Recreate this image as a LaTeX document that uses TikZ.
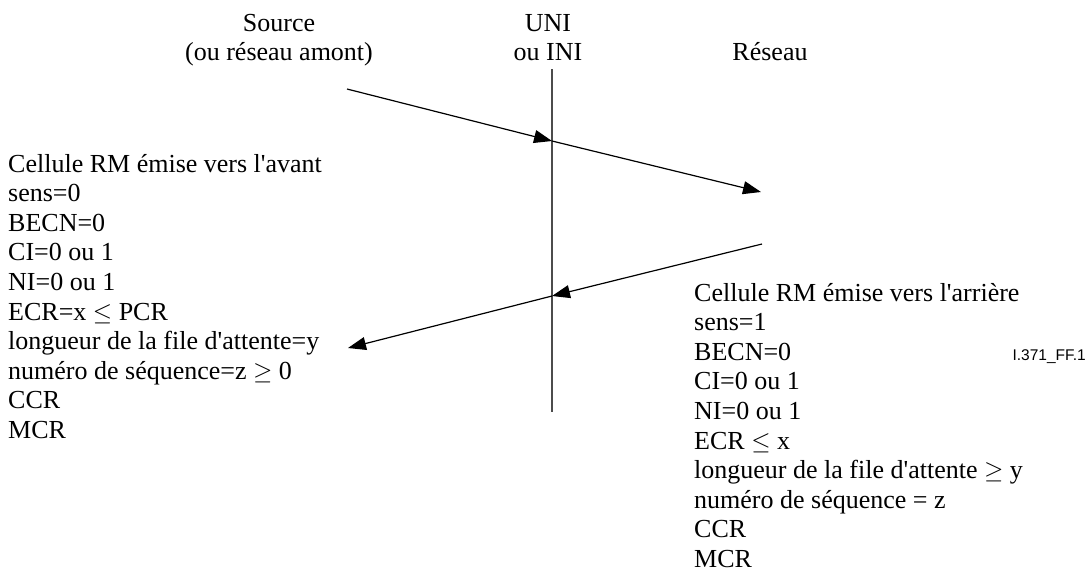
\documentclass[tikz,border=0pt]{standalone}
\usepackage{fontspec}
\newfontfamily\tnr{Liberation Serif}
\newfontfamily\arl{Liberation Sans}
\newcommand\apos{\char39\relax}
\usetikzlibrary{arrows.meta}
\begin{document}
\begin{tikzpicture}[x=1pt,y=-1pt,
  txt/.style={inner sep=0pt,font=\tnr\fontsize{26}{29.6}\selectfont},
  msg/.style={line width=1.2pt,draw=black,-{Triangle[length=18pt,width=13pt]}},
  iface/.style={line width=1.4pt,draw=black!70}]
\useasboundingbox (0,0) rectangle (1086,571);
% top labels
\node[txt,anchor=base] (src1) at (279,31) {Source};
\node[txt,anchor=base] (src2) at (279,60) {(ou réseau amont)};
\node[txt,anchor=base] (uni1) at (548,31) {UNI};
\node[txt,anchor=base] (uni2) at (548,60) {ou INI};
\node[txt,anchor=base] (res) at (770,60) {Réseau};
% interface line
\coordinate (vtop) at (552,69);
\coordinate (vbot) at (552,412);
\draw[iface] (vtop) -- (vbot);
% forward RM cell
\coordinate (f0) at (347,89);
\coordinate (f1) at (552,141);
\coordinate (f2) at (761,192);
\draw[msg] (f0) -- (f1);
\draw[msg] (f1) -- (f2);
% backward RM cell
\coordinate (b0) at (762,244);
\coordinate (b1) at (552,296);
\coordinate (b2) at (348,348);
\draw[msg] (b0) -- (b1);
\draw[msg] (b1) -- (b2);
% left text
\foreach \t [count=\i] in {Cellule RM émise vers l\apos avant,sens=0,BECN=0,CI=0 ou 1,NI=0 ou 1,ECR=x $\le$ PCR,longueur de la file d\apos attente=y,numéro de séquence=z $\ge$ 0,CCR,MCR}
  \node[txt,anchor=base west] (L\i) at (8,{172+29.6*(\i-1)}) {\t};
% right text
\foreach \t [count=\i] in {Cellule RM émise vers l\apos arrière,sens=1,BECN=0,CI=0 ou 1,NI=0 ou 1,ECR $\le$ x,longueur de la file d\apos attente $\ge$ y,numéro de séquence = z,CCR,MCR}
  \node[txt,anchor=base west] (R\i) at (694,{301+29.6*(\i-1)}) {\t};
\node[inner sep=0pt,anchor=base east,font=\arl\fontsize{15.5}{18}\selectfont] (lbl) at (1086,360) {I.371\_FF.1};
\end{tikzpicture}
\end{document}
